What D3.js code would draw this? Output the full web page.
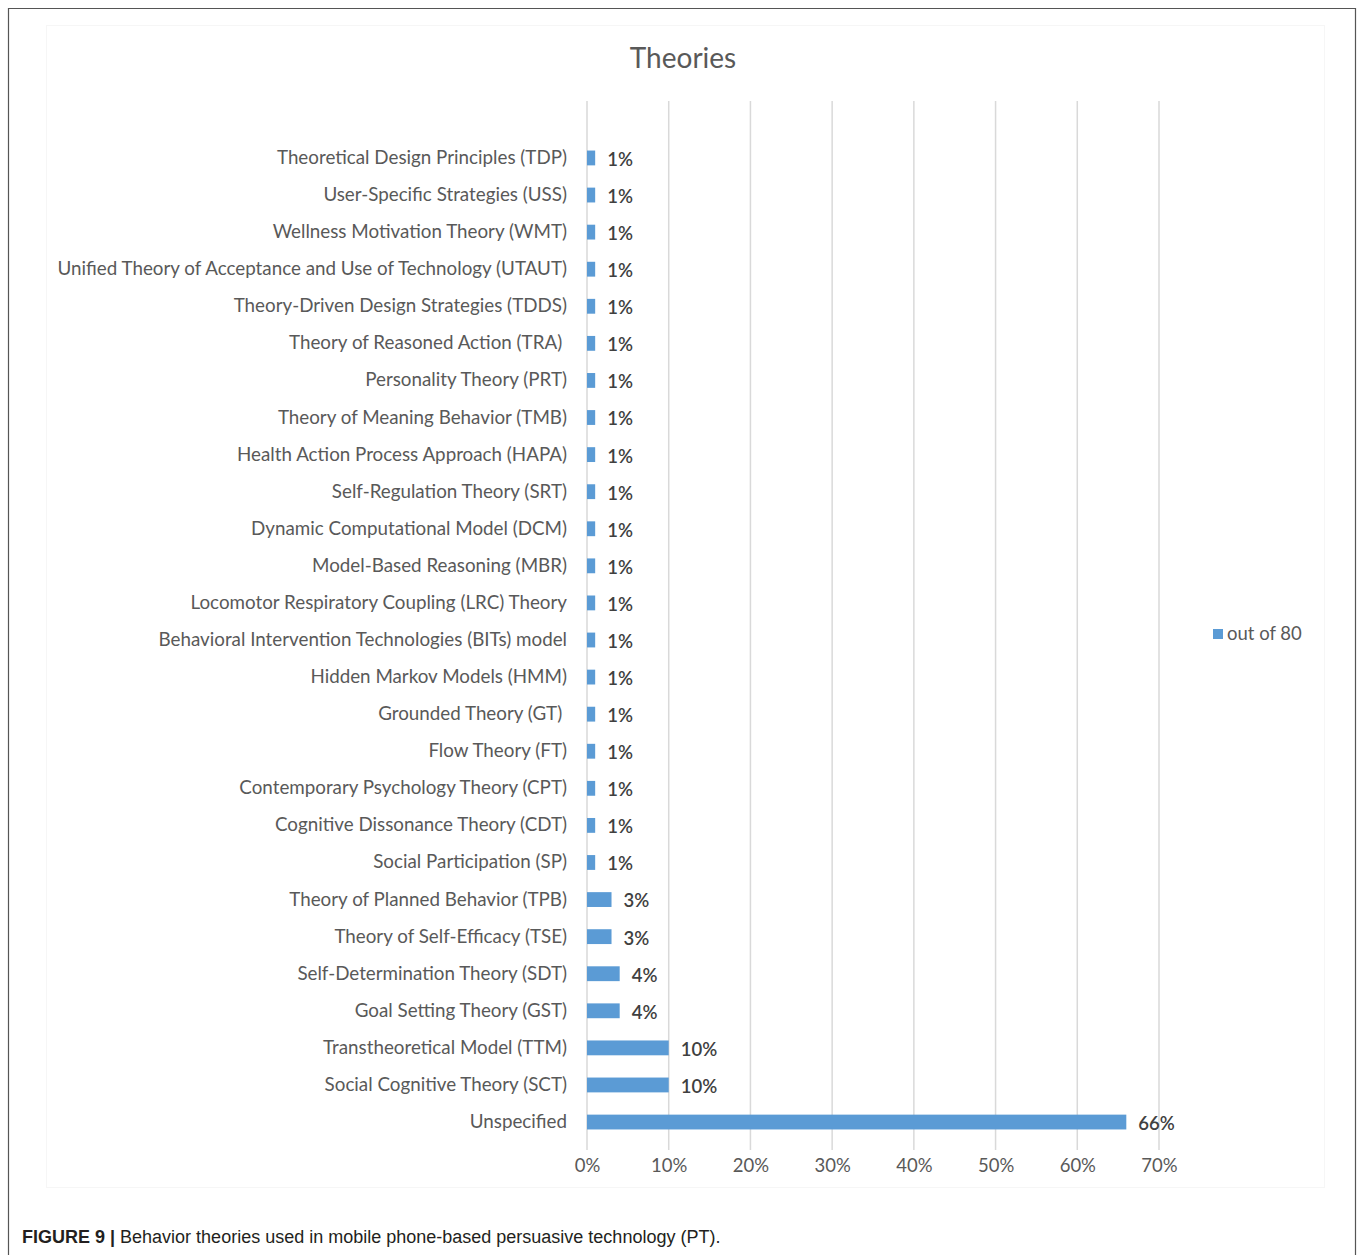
<!DOCTYPE html>
<html>
<head>
<meta charset="utf-8">
<script src="https://cdn.jsdelivr.net/npm/d3@7"></script>
<style>
  html, body { margin: 0; padding: 0; background: #fff; }
  svg { display: block; }
  .cat { white-space: pre; }
</style>
</head>
<body>
<svg id="chart" width="1358" height="1255"></svg>
<script>
// Behaviour theories, top to bottom, with share of 80 studies (percent)
const categories = [
  "Theoretical Design Principles (TDP)",
  "User-Specific Strategies (USS)",
  "Wellness Motivation Theory (WMT)",
  "Unified Theory of Acceptance and Use of Technology (UTAUT)",
  "Theory-Driven Design Strategies (TDDS)",
  "Theory of Reasoned Action (TRA) ",
  "Personality Theory (PRT)",
  "Theory of Meaning Behavior (TMB)",
  "Health Action Process Approach (HAPA)",
  "Self-Regulation Theory (SRT)",
  "Dynamic Computational Model (DCM)",
  "Model-Based Reasoning (MBR)",
  "Locomotor Respiratory Coupling (LRC) Theory",
  "Behavioral Intervention Technologies (BITs) model",
  "Hidden Markov Models (HMM)",
  "Grounded Theory (GT) ",
  "Flow Theory (FT)",
  "Contemporary Psychology Theory (CPT)",
  "Cognitive Dissonance Theory (CDT)",
  "Social Participation (SP)",
  "Theory of Planned Behavior (TPB)",
  "Theory of Self-Efficacy (TSE)",
  "Self-Determination Theory (SDT)",
  "Goal Setting Theory (GST)",
  "Transtheoretical Model (TTM)",
  "Social Cognitive Theory (SCT)",
  "Unspecified"
];
const values = [1,1,1,1,1,1,1,1,1,1,1,1,1,1,1,1,1,1,1,1,3,3,4,4,10,10,66];
const tickValues = [0,10,20,30,40,50,60,70];
const seriesName = "out of 80";
const chartTitle = "Theories";

const svg = d3.select("#chart");
const textColor = "#595959";
const barColor = "#5b9bd5";
const fontFam = "Lato, 'Open Sans', sans-serif";

// outer figure frame
svg.append("path")
  .attr("d", "M8.5,1255 L8.5,8.5 L1355.5,8.5 L1355.5,1255")
  .attr("fill", "none").attr("stroke", "#555").attr("stroke-width", 1.2);

// faint chart area border
svg.append("rect")
  .attr("x", 46.5).attr("y", 25.5).attr("width", 1278).attr("height", 1162)
  .attr("fill", "none").attr("stroke", "#f6f6f6").attr("stroke-width", 1);

const x = d3.scaleLinear().domain([0, 70]).range([587, 1159]);
const y = d3.scaleBand().domain(categories).range([132, 1148])
  .paddingInner(0.6).paddingOuter(0.5);

// vertical gridlines
svg.append("g").selectAll("line").data(tickValues).join("line")
  .attr("x1", d => x(d)).attr("x2", d => x(d))
  .attr("y1", 101).attr("y2", 1150)
  .attr("stroke", "#d9d9d9").attr("stroke-width", 1.5);

// x axis tick labels
const xAxis = d3.axisBottom(x).tickValues(tickValues).tickSize(0).tickPadding(0)
  .tickFormat(d => d + "%");
const gx = svg.append("g").attr("transform", "translate(0,1159)").call(xAxis);
gx.select(".domain").remove();
gx.selectAll("text")
  .attr("font-family", fontFam).attr("font-size", 18.5).attr("fill", textColor)
  .attr("dy", "0.71em");

// category labels
svg.append("g").selectAll("text").data(categories).join("text")
  .attr("class", "cat")
  .attr("x", 567)
  .attr("y", d => y(d) + y.bandwidth() / 2)
  .attr("dy", "0.32em")
  .attr("text-anchor", "end")
  .attr("font-family", fontFam).attr("font-size", 18.8)
  .attr("fill", textColor)
  .text(d => d);

// bars
svg.append("g").selectAll("rect").data(values).join("rect")
  .attr("x", x(0))
  .attr("y", (d, i) => y(categories[i]))
  .attr("width", d => x(d) - x(0))
  .attr("height", y.bandwidth())
  .attr("fill", barColor);

// value labels
svg.append("g").selectAll("text").data(values).join("text")
  .attr("x", d => x(d) + 12)
  .attr("y", (d, i) => y(categories[i]) + y.bandwidth() / 2 + 2)
  .attr("dy", "0.32em")
  .attr("font-family", fontFam).attr("font-size", 18.5)
  .attr("font-weight", 600)
  .attr("fill", "#404040")
  .text(d => d + "%");

// title
svg.append("text")
  .attr("x", 683).attr("y", 58).attr("dy", "0.35em")
  .attr("text-anchor", "middle")
  .attr("font-family", fontFam).attr("font-size", 28)
  .attr("fill", textColor)
  .text(chartTitle);

// legend
const lg = svg.append("g").attr("transform", "translate(1213,634)");
lg.append("rect").attr("x", 0).attr("y", -5).attr("width", 10).attr("height", 10)
  .attr("fill", barColor);
lg.append("text").attr("x", 14).attr("y", 0).attr("dy", "0.34em")
  .attr("font-family", fontFam).attr("font-size", 18.5).attr("fill", textColor)
  .text(seriesName);

// caption
const cap = svg.append("text").attr("x", 22).attr("y", 1243)
  .attr("font-family", "'Liberation Sans', Arial, sans-serif")
  .attr("font-size", 18).attr("fill", "#231f20");
cap.append("tspan").attr("font-weight", "bold").text("FIGURE 9 | ");
cap.append("tspan").text("Behavior theories used in mobile phone-based persuasive technology (PT).");
</script>
</body>
</html>
